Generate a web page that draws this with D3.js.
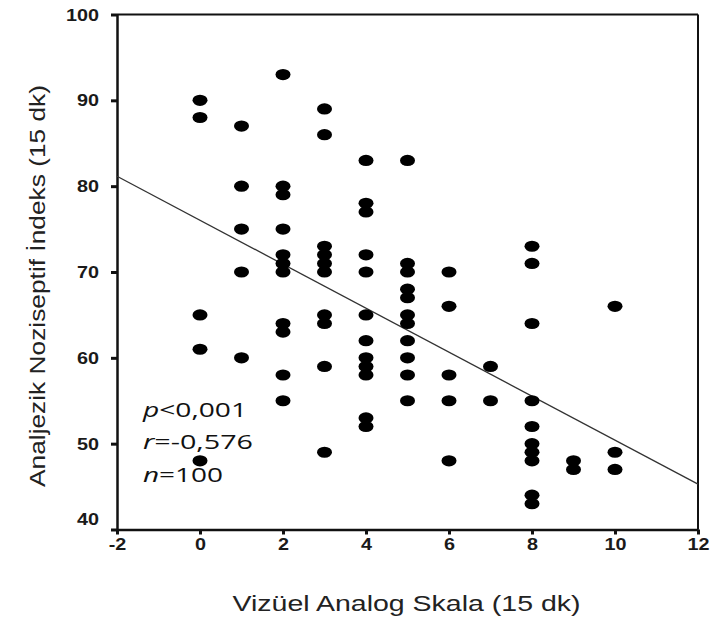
<!DOCTYPE html>
<html>
<head>
  <meta charset="utf-8">
  <title>VAS vs ANI scatter</title>
  <script src="https://d3js.org/d3.v7.min.js"></script>
  <style>
    body { margin: 0; background: #fff; }
  </style>
</head>
<body>
<script type="text/javascript">
  // visible points, one array per VAS score (x = 0..10)
  var vasScores = [0, 1, 2, 3, 4, 5, 6, 7, 8, 9, 10];
  var aniValues = [
    [90, 88, 65, 61, 48],
    [87, 80, 75, 70, 60],
    [93, 80, 79, 75, 72, 71, 70, 64, 63, 58, 55],
    [89, 86, 73, 72, 71, 70, 65, 64, 59, 49],
    [83, 78, 77, 72, 70, 65, 62, 60, 59, 58, 53, 52],
    [83, 71, 70, 68, 67, 65, 64, 62, 60, 58, 55],
    [70, 66, 58, 55, 48],
    [59, 55],
    [73, 71, 64, 55, 52, 50, 49, 48, 44, 43],
    [48, 47],
    [66, 49, 47]
  ];
  var xTicks = [-2, 0, 2, 4, 6, 8, 10, 12];
  var yTicks = [40, 50, 60, 70, 80, 90, 100];
  var fitIntercept = 76.03;
  var fitSlope = -2.562;
  var statLines = [["p", "<0,001"], ["r", "=-0,576"], ["n", "=100"]];
  var xTitle = "Vizüel Analog Skala (15 dk)";
  var yTitle = "Analjezik Noziseptif İndeks (15 dk)";

  var w = 712, h = 623;
  var pLeft = 117, pRight = 698, pTop = 14.5, pBottom = 529.5;

  var svg = d3.select("body").append("svg")
    .attr("width", w)
    .attr("height", h);

  var x = d3.scaleLinear().domain([-2, 12]).range([pLeft, pRight]);
  var y = d3.scaleLinear().domain([40, 100]).range([pBottom, pTop]);

  var points = [];
  vasScores.forEach(function(v, i) {
    aniValues[i].forEach(function(a) { points.push({vas: v, ani: a}); });
  });

  // frame top + right
  svg.append("line").attr("x1", pLeft).attr("x2", pRight).attr("y1", pTop).attr("y2", pTop)
    .attr("stroke", "#111").attr("stroke-width", 2);
  svg.append("line").attr("x1", pRight).attr("x2", pRight).attr("y1", pTop).attr("y2", pBottom)
    .attr("stroke", "#111").attr("stroke-width", 2);

  var xAxis = svg.append("g")
    .attr("transform", "translate(0," + pBottom + ")")
    .call(d3.axisBottom(x).tickValues(xTicks).tickSize(5).tickSizeOuter(0).tickFormat(String));
  var yAxis = svg.append("g")
    .attr("transform", "translate(" + pLeft + ",0)")
    .call(d3.axisLeft(y).tickValues(yTicks).tickSize(6).tickSizeOuter(0).tickFormat(String));

  [xAxis, yAxis].forEach(function(g) {
    g.select(".domain").attr("stroke", "#111").attr("stroke-width", 2.5);
    g.selectAll(".tick line").attr("stroke", "#111").attr("stroke-width", 3);
    g.selectAll(".tick text")
      .attr("fill", "#1a1a1a")
      .style("font-family", "'Liberation Sans', Arial, sans-serif")
      .style("font-size", "16.5px")
      .style("font-weight", "bold");
  });
  xAxis.selectAll(".tick text")
    .attr("y", 9)
    .attr("transform", "scale(1.2,1)");
  yAxis.selectAll(".tick text")
    .attr("x", -15)
    .attr("transform", "scale(1.2,1)")
    .attr("dy", function(d) { return d === yTicks[0] ? "-0.3em" : "0.34em"; });

  // regression line
  svg.append("line")
    .attr("x1", x(-2)).attr("y1", y(fitIntercept + fitSlope * -2))
    .attr("x2", x(12)).attr("y2", y(fitIntercept + fitSlope * 12))
    .attr("stroke", "#333").attr("stroke-width", 1.3);

  svg.selectAll("ellipse.pt")
    .data(points)
    .enter()
    .append("ellipse")
    .attr("class", "pt")
    .attr("cx", function(d) { return x(d.vas); })
    .attr("cy", function(d) { return y(d.ani); })
    .attr("rx", 7.5)
    .attr("ry", 5.6)
    .attr("fill", "#000");

  // stats text
  var stats = svg.append("g")
    .style("font-family", "'Open Sans', 'Noto Sans', sans-serif")
    .style("font-size", "20.5px")
    .attr("fill", "#111");
  var statWidths = [104, 110, 80];
  statLines.forEach(function(s, i) {
    var t = stats.append("text")
      .attr("x", 143)
      .attr("y", 417 + i * 32.3)
      .attr("textLength", statWidths[i])
      .attr("lengthAdjust", "spacingAndGlyphs");
    t.append("tspan").style("font-style", "italic").text(s[0]);
    t.append("tspan").text(s[1]);
  });

  // axis titles
  svg.append("text")
    .attr("x", (pLeft + pRight) / 2 - 1)
    .attr("y", 611)
    .attr("text-anchor", "middle")
    .attr("textLength", 348)
    .attr("lengthAdjust", "spacingAndGlyphs")
    .attr("fill", "#222")
    .style("font-family", "'Liberation Sans', Arial, sans-serif")
    .style("font-size", "22px")
    .text(xTitle);

  svg.append("text")
    .attr("transform", "translate(45,286) rotate(-90)")
    .attr("text-anchor", "middle")
    .attr("textLength", 402)
    .attr("lengthAdjust", "spacingAndGlyphs")
    .attr("fill", "#222")
    .style("font-family", "'Liberation Sans', Arial, sans-serif")
    .style("font-size", "22px")
    .text(yTitle);
</script>
</body>
</html>
